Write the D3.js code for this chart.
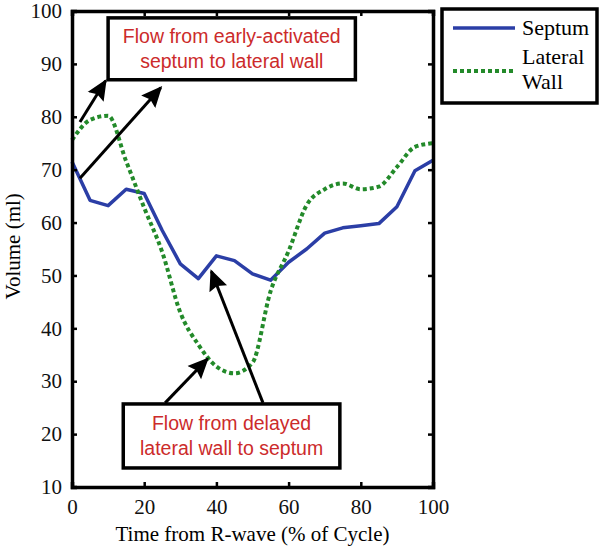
<!DOCTYPE html>
<html>
<head>
<meta charset="UTF-8">
<title>Septum vs lateral wall volume</title>
<style>
  body { margin: 0; background: #fff; }
</style>
</head>
<body>
<script src="https://d3js.org/d3.v7.min.js"></script>
<script>
  // % of cycle, step 5
  const time = [0, 5, 10, 15, 20, 25, 30, 35, 40, 45, 50, 55, 60, 65, 70, 75, 80, 85, 90, 95, 100];
  const septum = [71.5, 64.2, 63.2, 66.3, 65.5, 58.5, 52.2, 49.4, 53.7, 52.8, 50.3, 49.1, 52.5, 55, 58, 59, 59.4, 59.8, 63, 69.8, 71.8];
  const lateral = [75.6, 79.4, 80.2, 71.6, 62.8, 54.4, 43, 36.9, 32.8, 31.5, 33.5, 47, 54.6, 63.3, 66.3, 67.4, 66.3, 66.8, 70.5, 74.3, 75];
  const xTicks = [0, 20, 40, 60, 80, 100];
  const yTicks = [10, 20, 30, 40, 50, 60, 70, 80, 90, 100];
  const legendNames = ["Septum", "Lateral Wall"];

  // annotation arrows, in data coords [x0,y0,x1,y1] (tail -> tip)
  const arrows = [
    [2.2, 79.0, 9.3, 86.8],
    [2.2, 68.4, 24.6, 85.5],
    [25.8, 25.9, 37.5, 34.2],
    [52.9, 25.9, 38.6, 50.8]
  ];

  const width = 600, height = 547;
  const margin = {left: 72, right: 167, top: 11, bottom: 60};

  const svg = d3.select("body").append("svg")
    .attr("width", width).attr("height", height);

  const x = d3.scaleLinear().domain([0, 100]).range([margin.left, width - margin.right]);
  const y = d3.scaleLinear().domain([10, 100]).range([height - margin.bottom, margin.top]);

  const serif = "'Liberation Serif', 'Times New Roman', serif";

  // lines
  const line = d3.line().x((d, i) => x(time[i])).y(d => y(d));

  svg.append("path").datum(septum)
    .attr("d", line)
    .attr("fill", "none")
    .attr("stroke", "#2b3ea6")
    .attr("stroke-width", 3.5)
    .attr("stroke-linejoin", "round");

  svg.append("path").datum(lateral)
    .attr("d", line.curve(d3.curveMonotoneX))
    .attr("fill", "none")
    .attr("stroke", "#238a2a")
    .attr("stroke-width", 4)
    .attr("stroke-dasharray", "4,3");

  // axes (ticks inward on all sides)
  const axB = svg.append("g")
    .attr("transform", "translate(0," + y(10) + ")")
    .call(d3.axisBottom(x).tickValues(xTicks).tickSize(-5).tickPadding(12));
  const axL = svg.append("g")
    .attr("transform", "translate(" + x(0) + ",0)")
    .call(d3.axisLeft(y).tickValues(yTicks).tickSize(-5).tickPadding(10));
  const axT = svg.append("g")
    .attr("transform", "translate(0," + y(100) + ")")
    .call(d3.axisTop(x).tickValues(xTicks).tickSize(-5).tickFormat(""));
  const axR = svg.append("g")
    .attr("transform", "translate(" + x(100) + ",0)")
    .call(d3.axisRight(y).tickValues(yTicks).tickSize(-5).tickFormat(""));

  [axB, axL, axT, axR].forEach(g => {
    g.select(".domain").attr("stroke", "#000").attr("stroke-width", 3.5);
    g.selectAll(".tick line").attr("stroke", "#000").attr("stroke-width", 2.5);
    g.selectAll("text").attr("font-family", serif).attr("font-size", 21).attr("fill", "#111");
  });

  // axis titles
  svg.append("text")
    .attr("x", (x(0) + x(100)) / 2).attr("y", 541)
    .attr("text-anchor", "middle")
    .attr("font-family", serif).attr("font-size", 21)
    .text("Time from R-wave (% of Cycle)");

  svg.append("text")
    .attr("transform", "translate(20," + y(55.5) + ") rotate(-90)")
    .attr("text-anchor", "middle")
    .attr("font-family", serif).attr("font-size", 21)
    .text("Volume (ml)");

  // arrowhead
  svg.append("defs").append("marker")
    .attr("id", "head")
    .attr("viewBox", "0 0 10 10")
    .attr("refX", 9).attr("refY", 5)
    .attr("markerWidth", 7).attr("markerHeight", 7)
    .attr("markerUnits", "strokeWidth")
    .attr("orient", "auto")
    .append("path").attr("d", "M0,0.5 L10,5 L0,9.5 L1.5,5 Z").attr("fill", "#000");

  svg.selectAll(".arrow")
    .data(arrows)
    .enter().append("line")
    .attr("class", "arrow")
    .attr("x1", d => x(d[0])).attr("y1", d => y(d[1]))
    .attr("x2", d => x(d[2])).attr("y2", d => y(d[3]))
    .attr("stroke", "#000")
    .attr("stroke-width", 3)
    .attr("marker-end", "url(#head)");

  // annotation boxes
  const notes = [
    {x0: 10, x1: 78.5, y0: 98.7, y1: 87, lines: ["Flow from early-activated", "septum to lateral wall"]},
    {x0: 14.2, x1: 74.2, y0: 25.7, y1: 13.6, lines: ["Flow from delayed", "lateral wall to septum"]}
  ];
  notes.forEach(n => {
    svg.append("rect")
      .attr("x", x(n.x0)).attr("y", y(n.y0))
      .attr("width", x(n.x1) - x(n.x0)).attr("height", y(n.y1) - y(n.y0))
      .attr("fill", "#fff").attr("stroke", "#000").attr("stroke-width", 3.5);
    const cx = (x(n.x0) + x(n.x1)) / 2;
    const cy = (y(n.y0) + y(n.y1)) / 2;
    n.lines.forEach((t, i) => {
      svg.append("text")
        .attr("x", cx).attr("y", cy + (i - 0.5) * 25 + 7)
        .attr("text-anchor", "middle")
        .attr("font-family", "'Liberation Sans', Arial, sans-serif")
        .attr("font-size", 19.5)
        .attr("fill", "#cc2b2b")
        .text(t);
    });
  });

  // legend
  const lg = svg.append("g");
  lg.append("rect")
    .attr("x", 442).attr("y", 9).attr("width", 155).attr("height", 94)
    .attr("fill", "#fff").attr("stroke", "#000").attr("stroke-width", 3.5);
  lg.append("line")
    .attr("x1", 453).attr("x2", 515).attr("y1", 28).attr("y2", 28)
    .attr("stroke", "#2b3ea6").attr("stroke-width", 3.5);
  lg.append("line")
    .attr("x1", 453).attr("x2", 515).attr("y1", 71).attr("y2", 71)
    .attr("stroke", "#238a2a").attr("stroke-width", 4).attr("stroke-dasharray", "4,3");
  lg.append("text")
    .attr("x", 522).attr("y", 35)
    .attr("font-family", serif).attr("font-size", 22)
    .text(legendNames[0]);
  const t2 = lg.append("text")
    .attr("x", 522).attr("y", 64)
    .attr("font-family", serif).attr("font-size", 22);
  t2.append("tspan").attr("x", 522).text(legendNames[1].split(" ")[0]);
  t2.append("tspan").attr("x", 522).attr("dy", 25).text(legendNames[1].split(" ")[1]);
</script>
</body>
</html>
